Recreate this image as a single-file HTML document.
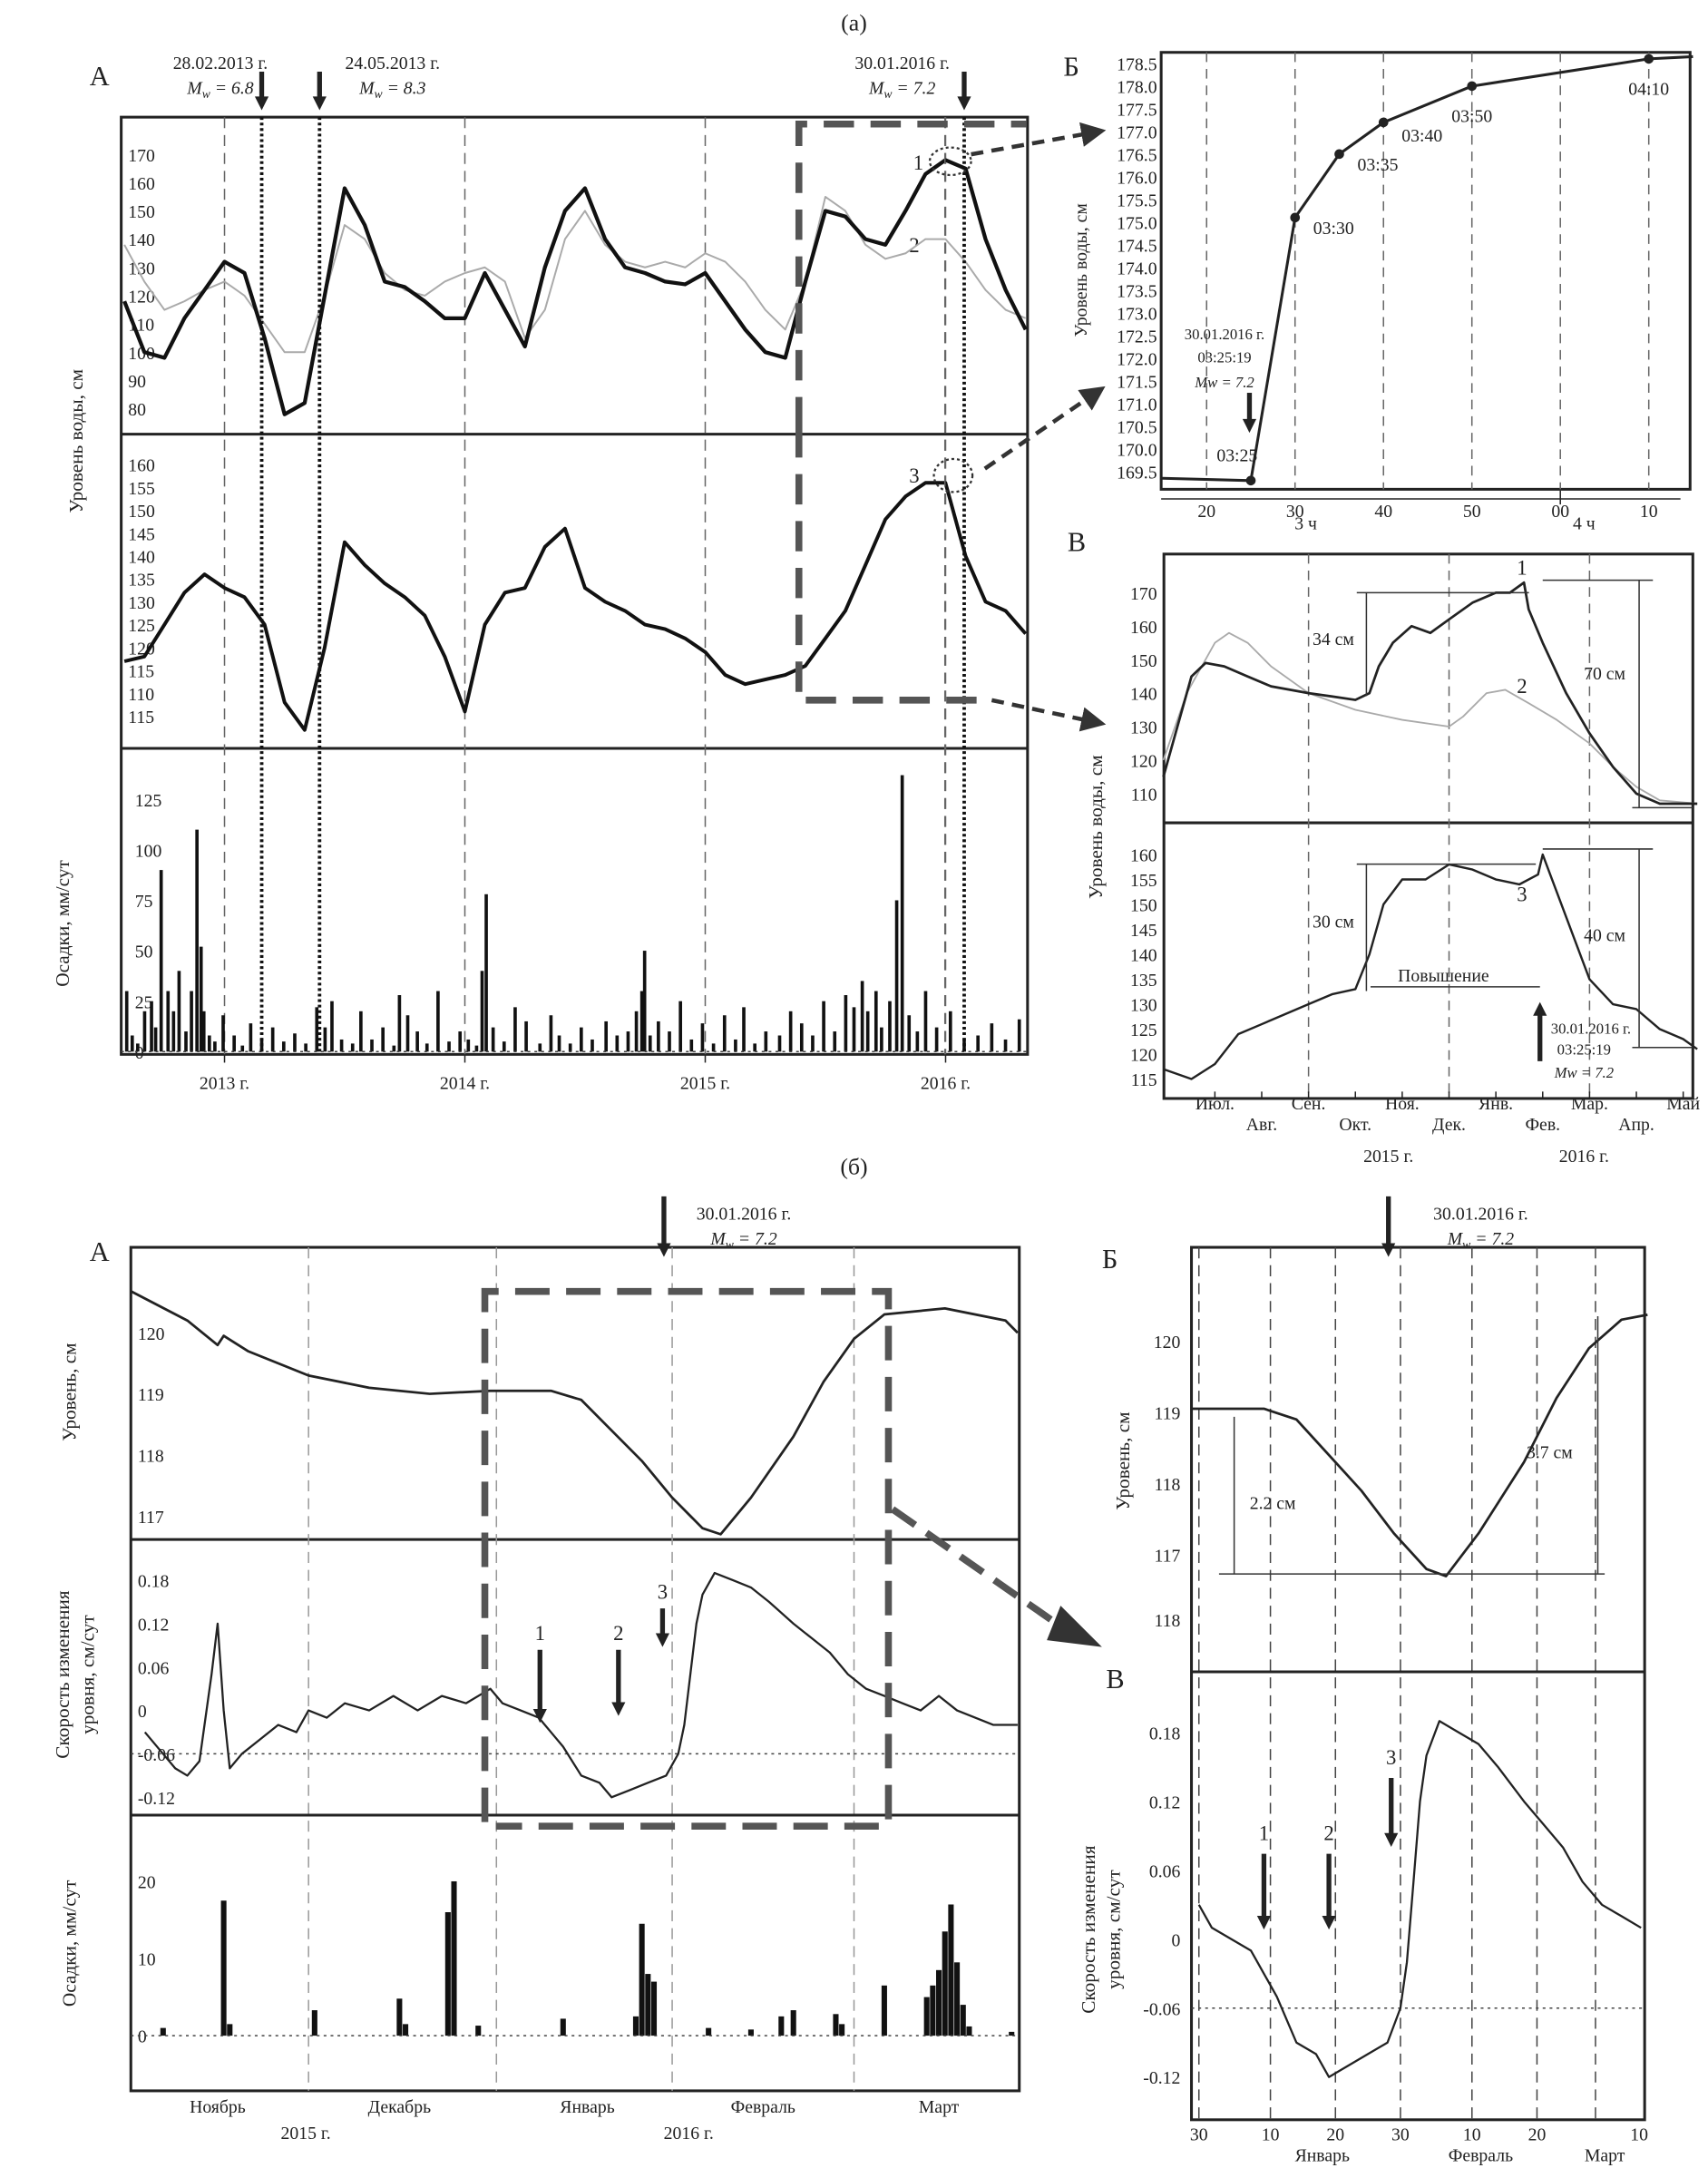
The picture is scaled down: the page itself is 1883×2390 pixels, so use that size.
<!DOCTYPE html>
<html><head><meta charset="utf-8"><style>
html,body{margin:0;padding:0;background:#fff}
svg{display:block}
text{font-family:"Liberation Serif","DejaVu Serif",serif;fill:#222}
</style></head><body>
<svg id="fig" width="1883" height="2390" viewBox="0 0 1240 1573" preserveAspectRatio="none" xmlns="http://www.w3.org/2000/svg">
<defs>
<marker id="ah" markerWidth="6" markerHeight="6" refX="5" refY="3" orient="auto"><path d="M0,0 L6,3 L0,6 z" fill="#333"/></marker>
</defs>
<g>
<text x="620" y="22" font-size="17" text-anchor="middle">(а)</text>
<text x="65" y="62" font-size="20">А</text>
<text x="160" y="50" font-size="13" text-anchor="middle">28.02.2013 г.</text>
<text x="160" y="68" font-size="13" text-anchor="middle" font-style="italic">M<tspan font-size="9" dy="3">w</tspan><tspan dy="-3"> = 6.8</tspan></text>
<text x="285" y="50" font-size="13" text-anchor="middle">24.05.2013 г.</text>
<text x="285" y="68" font-size="13" text-anchor="middle" font-style="italic">M<tspan font-size="9" dy="3">w</tspan><tspan dy="-3"> = 8.3</tspan></text>
<text x="655" y="50" font-size="13" text-anchor="middle">30.01.2016 г.</text>
<text x="655" y="68" font-size="13" text-anchor="middle" font-style="italic">M<tspan font-size="9" dy="3">w</tspan><tspan dy="-3"> = 7.2</tspan></text>
<text x="60" y="320" font-size="14" text-anchor="middle" transform="rotate(-90 60 320)">Уровень воды, см</text>
<text x="50" y="670" font-size="14" text-anchor="middle" transform="rotate(-90 50 670)">Осадки, мм/сут</text>
<text x="663" y="123" font-size="15">1</text>
<text x="660" y="183" font-size="15">2</text>
<text x="660" y="350" font-size="15">3</text>
<text x="772" y="55" font-size="20">Б</text>
<text x="775" y="400" font-size="20">В</text>
<text x="620" y="852" font-size="17" text-anchor="middle">(б)</text>
<text x="65" y="915" font-size="20">А</text>
<text x="800" y="920" font-size="20">Б</text>
<text x="803" y="1225" font-size="20">В</text>
<text x="540" y="885" font-size="13" text-anchor="middle">30.01.2016 г.</text>
<text x="540" y="903" font-size="13" text-anchor="middle" font-style="italic">M<tspan font-size="9" dy="3">w</tspan><tspan dy="-3"> = 7.2</tspan></text>
<text x="1075" y="885" font-size="13" text-anchor="middle">30.01.2016 г.</text>
<text x="1075" y="903" font-size="13" text-anchor="middle" font-style="italic">M<tspan font-size="9" dy="3">w</tspan><tspan dy="-3"> = 7.2</tspan></text>
<text x="55" y="1010" font-size="14" text-anchor="middle" transform="rotate(-90 55 1010)">Уровень, см</text>
<text x="50" y="1215" font-size="14" text-anchor="middle" transform="rotate(-90 50 1215)">Скорость изменения</text>
<text x="68" y="1215" font-size="14" text-anchor="middle" transform="rotate(-90 68 1215)">уровня, см/сут</text>
<text x="55" y="1410" font-size="14" text-anchor="middle" transform="rotate(-90 55 1410)">Осадки, мм/сут</text>
<text x="820" y="1060" font-size="14" text-anchor="middle" transform="rotate(-90 820 1060)">Уровень, см</text>
<text x="795" y="1400" font-size="14" text-anchor="middle" transform="rotate(-90 795 1400)">Скорость изменения</text>
<text x="813" y="1400" font-size="14" text-anchor="middle" transform="rotate(-90 813 1400)">уровня, см/сут</text>
<text x="789" y="196" font-size="13" text-anchor="middle" transform="rotate(-90 789 196)">Уровень воды, см</text>
<text x="800" y="600" font-size="14" text-anchor="middle" transform="rotate(-90 800 600)">Уровень воды, см</text>
<text x="1008" y="843" font-size="13" text-anchor="middle">2015 г.</text>
<text x="1150" y="843" font-size="13" text-anchor="middle">2016 г.</text>
<text x="222" y="1552" font-size="13" text-anchor="middle">2015 г.</text>
<text x="500" y="1552" font-size="13" text-anchor="middle">2016 г.</text>
<text x="948" y="384" font-size="13" text-anchor="middle">3 ч</text>
<text x="1150" y="384" font-size="13" text-anchor="middle">4 ч</text>
<text x="960" y="1568" font-size="13" text-anchor="middle">Январь</text>
<text x="1075" y="1568" font-size="13" text-anchor="middle">Февраль</text>
<text x="1165" y="1568" font-size="13" text-anchor="middle">Март</text>
</g>
<g id="plots"></g>
</svg>
<script>
const monthsA = [-5,-4,-3,-2,-1,0,1,2,3,4,5,6,7,8,9,10,11,12,13,14,15,16,17,18,19,20,21,22,23,24,25,26,27,28,29,30,31,32,33,34,35,36,37,38,39,40];
const series1 = [118,100,98,112,122,132,128,105,78,82,120,158,145,125,123,118,112,112,128,115,102,130,150,158,140,130,128,125,124,128,118,108,100,98,125,150,148,140,138,150,163,168,165,140,122,108];
const series2 = [138,125,115,118,122,125,120,110,100,100,120,145,140,128,122,120,125,128,130,125,105,115,140,150,138,132,130,132,130,135,132,125,115,108,125,155,150,138,133,135,140,140,132,122,115,112];
const series3 = [117,118,125,132,136,133,131,125,108,102,120,143,138,134,131,127,118,106,125,132,133,142,146,133,130,128,125,124,122,119,114,112,113,114,116,122,128,138,148,153,156,156,140,130,128,123];
const precipX = [92,96,100,105,110,113,117,122,126,130,135,139,143,146,148,152,156,162,170,176,182,190,198,206,214,222,230,236,241,248,256,262,270,278,286,290,296,303,310,318,326,334,340,346,350,353,358,366,374,382,392,400,406,414,422,430,440,448,456,462,466,468,472,478,486,494,502,510,518,526,534,540,548,556,566,574,582,590,598,606,614,620,626,630,636,640,646,651,655,660,666,672,680,690,700,710,720,730,740];
const precipV = [30,8,4,20,25,12,90,30,20,40,10,30,110,52,20,8,5,18,8,3,14,6,12,5,9,4,22,12,25,6,4,20,6,12,3,28,18,10,4,30,5,10,6,3,40,78,12,5,22,15,4,18,8,4,12,6,15,8,10,20,30,50,8,15,10,25,6,14,4,18,6,22,4,10,8,20,14,8,25,10,28,22,35,20,30,12,25,75,137,18,10,30,12,20,6,8,14,6,16];
const yTop = [170,160,150,140,130,120,110,100,90,80];
const yMidLbl = [160,155,150,145,140,135,130,125,120,115,110,115];
const yPrec = [0,25,50,75,100,125];
const yearLbl = ['2013 г.','2014 г.','2015 г.','2016 г.'];
const bMin = [-10,25,30,35,40,50,70,75];
const bVal = [169.35,169.3,175.1,176.5,177.2,178.0,178.6,178.65];
const bPtLbl = ['03:25','03:30','03:35','03:40','03:50','04:10'];
const bXt = ['20','30','40','50','00','10'];
const vM1 = [-3.1,-2.8,-2.5,-2.2,-1.8,-1.3,-0.8,0,0.5,1,1.3,1.5,1.8,2.2,2.6,3,3.5,4,4.3,4.6,4.7,5,5.5,6,6.5,7,7.5,8.3];
const vS1 = [115,130,145,149,148,145,142,140,139,138,140,148,155,160,158,162,167,170,170,173,165,155,140,128,118,110,107,107];
const vM2 = [-3.1,-2.6,-2,-1.7,-1.3,-0.8,0,1,2,3,3.3,3.8,4.2,4.7,5.3,6,6.5,7,7.5,8.3];
const vS2 = [120,140,155,158,155,148,140,135,132,130,133,140,141,137,132,125,118,112,108,107];
const vM3 = [-3.1,-2.5,-2,-1.5,-1,-0.5,0,0.5,1,1.3,1.6,2,2.5,3,3.5,4,4.5,4.9,5,5.2,5.6,6,6.5,7,7.5,8,8.3];
const vS3 = [117,115,118,124,126,128,130,132,133,140,150,155,155,158,157,155,154,156,160,155,145,135,130,129,125,123,121];
const vMonths = ['Июл.','Авг.','Сен.','Окт.','Ноя.','Дек.','Янв.','Фев.','Мар.','Апр.','Май'];
const lvDay = [0,10,15,16,20,30,40,50,60,70,75,80,85,90,95,98,103,110,115,120,125,135,145,150];
const lvVal = [120.7,120.2,119.8,119.95,119.7,119.3,119.1,119.0,119.05,119.05,118.9,118.4,117.9,117.3,116.8,116.7,117.3,118.3,119.2,119.9,120.3,120.4,120.2,119.9];
const rtDay = [0,3,6,8,10,12,14,15,16,17,19,22,25,28,30,33,36,40,44,48,52,56,60,62,65,68,70,72,75,78,80,83,86,89,91,92,93,94,95,97,100,103,106,110,113,116,119,122,125,128,131,134,137,140,143,147,150];
const rtVal = [0,-0.03,-0.06,-0.08,-0.09,-0.07,0.05,0.12,0,-0.08,-0.06,-0.04,-0.02,-0.03,0,-0.01,0.01,0,0.02,0,0.02,0.01,0.03,0.01,0,-0.01,-0.03,-0.05,-0.09,-0.1,-0.12,-0.11,-0.1,-0.09,-0.06,-0.02,0.05,0.12,0.16,0.19,0.18,0.17,0.15,0.12,0.1,0.08,0.05,0.03,0.02,0.01,0,0.02,0,-0.01,-0.02,-0.02,-0.02];
const prDay = [6,16,17,31,45,46,53,54,58,72,84,85,86,87,96,103,108,110,117,118,125,132,133,134,135,136,137,138,139,146];
const prVal = [1,17.5,1.5,3.3,4.8,1.5,16,20,1.3,2.2,2.5,14.5,8,7,1,0.8,2.5,3.3,2.8,1.5,6.5,5,6.5,8.5,13.5,17,9.5,4,1.2,0.5];
const monthsB = ['Ноябрь','Декабрь','Январь','Февраль','Март'];
const bLvTicks = [120,119,118,117];
const bRtTicks = [0.18,0.12,0.06,0,-0.06,-0.12];
const bPrTicks = [0,10,20];
const b2DayLbl = ['30','10','20','30','10','20','10'];
const b2Days = [60,71,81,91,102,112,130];

const NS='http://www.w3.org/2000/svg';
const root=document.getElementById('plots');
function mk(tag,at){const e=document.createElementNS(NS,tag);for(const k in at)e.setAttribute(k,at[k]);root.appendChild(e);return e;}
function txt(x,y,s,sz,anc){const e=mk('text',{x:x,y:y,'font-size':sz||13,'text-anchor':anc||'middle'});e.textContent=s;return e;}
function path(xs,ys,sx,sy,st,w,dash){let d='';for(let i=0;i<xs.length;i++)d+=(i?'L':'M')+sx(xs[i]).toFixed(1)+','+sy(ys[i]).toFixed(1);const e=mk('path',{d:d,fill:'none',stroke:st,'stroke-width':w,'stroke-linejoin':'round'});if(dash)e.setAttribute('stroke-dasharray',dash);return e;}
function ln(x1,y1,x2,y2,st,w,dash){const e=mk('line',{x1:x1,y1:y1,x2:x2,y2:y2,stroke:st,'stroke-width':w});if(dash)e.setAttribute('stroke-dasharray',dash);return e;}
function arrowDown(x,y1,y2){const a=ln(x,y1,x,y2-8,'#222',3.5);const p=mk('path',{d:`M${x-5},${y2-10}L${x+5},${y2-10}L${x},${y2}z`,fill:'#222'});return a;}
function clip(xs,ys,lo,hi){const o=[[],[]];xs.forEach((x,i)=>{if(x>=lo&&x<=hi){o[0].push(x);o[1].push(ys[i]);}});return o;}
let e;

// ===== (a) Panel A =====
const AX0=88,AX1=746;
const xA=m=>163+m*14.54;
const yT=v=>112+(170-v)*2.05;
const yM=v=>337+(160-v)*3.32;
const yP=v=>763-v*1.464;
e=mk('rect',{x:AX0,y:85,width:AX1-AX0,height:680,fill:'none',stroke:'#222','stroke-width':2});


e=ln(AX0,315,AX1,315,'#222',2);


e=ln(AX0,543,AX1,543,'#222',2);


for(let i=0;i<4;i++){const x=163+i*174.5;
 e=ln(x,85,x,765,'#666',1,'8,5');
 
 
 e=txt(x,790,yearLbl[i],13);
 
 
 ln(x,765,x,771,'#222',1);}
yTop.forEach(v=>{e=txt(AX0+5,yT(v)+5,String(v),13,'start');});
yMidLbl.forEach((v,i)=>{e=txt(AX0+5,337+i*16.6+5,String(v),13,'start');});
yPrec.forEach(v=>{e=txt(AX0+10,yP(v)+5,String(v),13,'start');});
precipX.forEach((x,i)=>{e=mk('rect',{x:x-1.2,y:yP(precipV[i]),width:2.4,height:precipV[i]*1.464,fill:'#111'});});
e=ln(AX0,763,AX1,763,'#444',1,'2,3');


e=path(monthsA,series2,xA,yT,'#aaa',1.3);


e=path(monthsA,series1,xA,yT,'#111',2.8);


e=path(monthsA,series3,xA,yM,'#111',2.6);


[190,232,700].forEach(x=>{e=ln(x,85,x,765,'#111',2.5,'2,2');arrowDown(x,52,80);});
e=ln(686,85,686,765,'#666',1,'8,5');
e=mk('path',{d:'M580,310 L580,90 L745,90 M580,310 L580,510 M585,508 L720,508',fill:'none',stroke:'#555','stroke-width':5,'stroke-dasharray':'22,12'});


e=mk('ellipse',{cx:690,cy:117,rx:15,ry:10,fill:'none',stroke:'#333','stroke-width':1.5,'stroke-dasharray':'2,2'});


e=mk('ellipse',{cx:692,cy:345,rx:14,ry:12,fill:'none',stroke:'#333','stroke-width':1.5,'stroke-dasharray':'2,2'});


[[705,112,800,95],[715,340,800,282],[720,508,800,525]].forEach(a=>{e=ln(a[0],a[1],a[2],a[3],'#333',3,'9,6');e.setAttribute('marker-end','url(#ah)');});

// ===== (a) Panel Б =====
const xB=m=>876+(m-20)*6.42;
const yB=v=>46+(178.5-v)*32.9;
e=mk('rect',{x:843,y:38,width:384,height:317,fill:'none',stroke:'#222','stroke-width':2});


[20,30,40,50,60,70].forEach((m,i)=>{const x=xB(m);e=ln(x,38,x,355,'#666',1,'7,5');e=txt(x,375,bXt[i],13);});
e=ln(843,362,1220,362,'#222',1);
ln(xB(60),356,xB(60),366,'#222',1);
for(let i=0;i<=18;i++){const v=178.5-i*0.5;e=txt(840,yB(v)+5,v.toFixed(1),13,'end');}
const bc=clip(bMin,bVal,16,78);
e=path([15].concat(bc[0]),[169.35].concat(bc[1]),xB,yB,'#222',2);


const bOff=[[-10,-14],[28,12],[28,12],[28,14],[0,26],[0,26]];
for(let i=1;i<7;i++){e=mk('circle',{cx:xB(bMin[i]),cy:yB(bVal[i]),r:3.5,fill:'#222'});
 e=txt(xB(bMin[i])+bOff[i-1][0],yB(bVal[i])+bOff[i-1][1],bPtLbl[i-1],13);}
txt(889,246,'30.01.2016 г.',11);txt(889,263,'03:25:19',11);
e=txt(889,281,'Mw = 7.2',11);e.setAttribute('font-style','italic');
arrowDown(xB(25)-1,285,314);

// ===== (a) Panel В =====
const xV=m=>950+m*34;
const yV1=v=>430+(170-v)*2.43;
const yV3=v=>620+(160-v)*3.62;
e=mk('rect',{x:845,y:402,width:384,height:395,fill:'none',stroke:'#222','stroke-width':2});


e=ln(845,597,1229,597,'#222',2);
[0,3,6].forEach(m=>{e=ln(xV(m),402,xV(m),797,'#666',1,'7,5');});
[170,160,150,140,130,120,110].forEach(v=>{e=txt(840,yV1(v)+5,String(v),13,'end');});
[160,155,150,145,140,135,130,125,120,115].forEach(v=>{e=txt(840,yV3(v)+5,String(v),13,'end');});
vMonths.forEach((s,i)=>{const x=xV(i-2);e=txt(x,i%2?820:805,s,13);ln(x,792,x,797,'#222',1);});
e=path(vM2,vS2,xV,yV1,'#aaa',1.2);


e=path(vM1,vS1,xV,yV1,'#222',1.8);


e=path(vM3,vS3,xV,yV3,'#222',1.6);


ln(985,430,1110,430,'#333',1);ln(1120,421,1200,421,'#333',1);ln(1185,586,1229,586,'#333',1);
ln(992,430,992,505,'#333',1);txt(968,468,'34 см',13);
ln(1190,421,1190,586,'#333',1);txt(1165,493,'70 см',13);
txt(1105,417,'1',15);txt(1105,503,'2',15);txt(1105,654,'3',15);
ln(985,627,1115,627,'#333',1);ln(1120,616,1200,616,'#333',1);ln(1185,760,1229,760,'#333',1);
ln(992,627,992,719,'#333',1);txt(968,673,'30 см',13);
ln(1190,616,1190,760,'#333',1);txt(1165,683,'40 см',13);
ln(995,716,1118,716,'#333',1);txt(1048,712,'Повышение',13);
txt(1155,750,'30.01.2016 г.',11);txt(1150,765,'03:25:19',11);e=txt(1150,782,'Mw = 7.2',11);e.setAttribute('font-style','italic');
e=ln(1118,770,1118,735,'#222',3.5);mk('path',{d:'M1113,737L1123,737L1118,727z',fill:'#222'});

// ===== (б) Panel A =====
const xD=d=>92+d*4.4;
const yL=v=>967+(120-v)*44.3;
const yR=v=>1241-v*525;
const yPr=v=>1477-v*5.6;
e=mk('rect',{x:95,y:905,width:645,height:612,fill:'none',stroke:'#222','stroke-width':2});


ln(95,1117,740,1117,'#222',2);ln(95,1317,740,1317,'#222',2);
[30,61,90,120].forEach(d=>{e=ln(xD(d),905,xD(d),1517,'#999',1,'8,5');});
[15,45,76,105,134].forEach((d,i)=>{e=txt(xD(d),1533,monthsB[i],13);});
bLvTicks.forEach(v=>{e=txt(100,yL(v)+5,String(v),13,'start');});
bRtTicks.forEach(v=>{e=txt(100,yR(v)+5,v===0?'0':v.toFixed(2),13,'start');});
bPrTicks.forEach(v=>{e=txt(100,yPr(v)+5,String(v),13,'start');});
e=ln(95,yR(-0.06),740,yR(-0.06),'#444',1,'2,3');
prDay.forEach((d,i)=>{e=mk('rect',{x:xD(d)-2,y:yPr(prVal[i]),width:4,height:prVal[i]*5.6,fill:'#111'});});
e=ln(95,1477,740,1477,'#444',1,'2,3');
const lc=clip(lvDay,lvVal,0.7,147);
e=path([0.7].concat(lc[0]).concat([147]),[120.68].concat(lc[1]).concat([120.0]),xD,yL,'#222',1.8);


const rc=clip(rtDay,rtVal,0.7,147);
e=path(rc[0],rc[1],xD,yR,'#222',1.5);


arrowDown(482,868,912);
[[392,1175,1250,'1'],[449,1175,1245,'2'],[481,1145,1195,'3']].forEach(a=>{arrowDown(a[0],a[1]+22,a[2]);e=txt(a[0],a[1]+15,a[3],15);});
e=mk('path',{d:'M352,1322 L352,937 L645,937 L645,1325 L360,1325',fill:'none',stroke:'#555','stroke-width':5,'stroke-dasharray':'25,12'});


e=ln(648,1095,770,1180,'#555',5,'20,10');
e=mk('path',{d:'M800,1195 L770,1165 L760,1190 z',fill:'#333'});

// ===== (б) Panel Б/В =====
const xE=d=>1012+(d-90)*4.72;
const yE=v=>973+(120-v)*51.7;
const yF=v=>1407-v*833;
e=mk('rect',{x:865,y:905,width:329,height:633,fill:'none',stroke:'#222','stroke-width':2});


ln(865,1213,1194,1213,'#222',2);
[60,71,81,91,102,112,121].forEach(d=>{e=ln(xE(d),905,xE(d),1538,'#444',1,'8,5');});
b2Days.forEach((d,i)=>{e=txt(Math.min(xE(d),1190),1553,b2DayLbl[i],13);});
[120,119,118,117].forEach(v=>{e=txt(857,yE(v)+5,String(v),13,'end');});
e=txt(857,1180,'118',13,'end');
bRtTicks.forEach(v=>{e=txt(857,yF(v)+5,v===0?'0':v.toFixed(2),13,'end');});
e=ln(865,yF(-0.06),1194,yF(-0.06),'#444',1,'2,3');
const l2=clip(lvDay,lvVal,59,129);
e=path([59].concat(l2[0]).concat([129]),[119.05].concat(l2[1]).concat([120.37]),xE,yE,'#222',1.8);


const r2=clip(rtDay,rtVal,59,129);
e=path(r2[0],r2[1],xE,yF,'#222',1.5);


ln(885,1142,1165,1142,'#333',1);
ln(896,1028,896,1142,'#333',1);txt(924,1095,'2.2 см',13);
ln(1160,955,1160,1142,'#333',1);txt(1125,1058,'3.7 см',13);
arrowDown(1008,868,912);
[[xE(70),1325,1400,'1'],[xE(80),1325,1400,'2'],[xE(90)-2,1270,1340,'3']].forEach(a=>{arrowDown(a[0],a[1]+20,a[2]);e=txt(a[0],a[1]+10,a[3],15);});
</script>
</body></html>
